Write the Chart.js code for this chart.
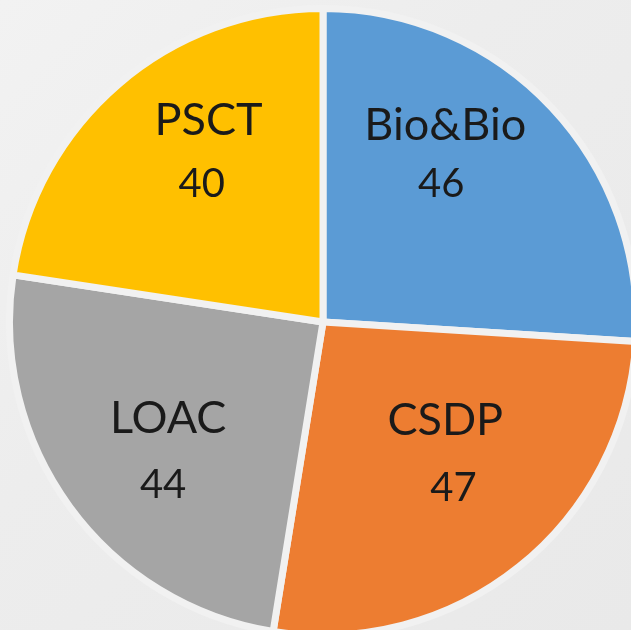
<!DOCTYPE html>
<html>
<head>
<meta charset="utf-8">
<script src="https://cdn.jsdelivr.net/npm/chart.js@4.4.0/dist/chart.umd.min.js"></script>
<style>
  html, body { margin: 0; padding: 0; width: 631px; height: 630px; overflow: hidden; background: #ededed; }
  body { background: linear-gradient(135deg, #f2f2f2 0%, #ededed 40%, #e9e9e9 100%); position: relative; }
  #wrap { position: absolute; left: 6px; top: 5px; width: 634px; height: 634px; }
</style>
</head>
<body>
<div id="wrap"><canvas id="c" width="634" height="634"></canvas></div>
<script>
const categories = ["Bio&Bio", "CSDP", "LOAC", "PSCT"];
const values = [46, 47, 44, 40];
const colors = ["#5B9BD5", "#ED7D31", "#A5A5A5", "#FFC000"];

// label anchors as fractions of the outer radius from the pie centre
const nameAnchors = [[0.39, -0.632], [0.39, 0.31], [-0.494, 0.303], [-0.365, -0.648]];
const valueAnchors = [[0.377, -0.445], [0.416, 0.526], [-0.51, 0.516], [-0.387, -0.445]];

const labelPlugin = {
  id: 'sliceLabels',
  afterDatasetsDraw(chart) {
    const ctx = chart.ctx;
    const meta = chart.getDatasetMeta(0);
    ctx.save();
    ctx.fillStyle = '#1a1a1a';
    ctx.textAlign = 'center';
    ctx.textBaseline = 'alphabetic';
    const fsName = 45, fsVal = 40;
    meta.data.forEach((arc, i) => {
      const r = arc.outerRadius;
      const cx = arc.x, cy = arc.y;
      const n = nameAnchors[i], v = valueAnchors[i];
      ctx.font = fsName + 'px Lato, "Open Sans", sans-serif';
      ctx.fillText(categories[i], cx + n[0] * r, cy + n[1] * r + 0.36 * fsName);
      ctx.font = fsVal + 'px Lato, "Open Sans", sans-serif';
      ctx.fillText(String(values[i]), cx + v[0] * r, cy + v[1] * r + 0.36 * fsVal);
    });
    ctx.restore();
  }
};

new Chart(document.getElementById('c'), {
  type: 'pie',
  data: {
    labels: categories,
    datasets: [{
      data: values,
      backgroundColor: colors,
      borderColor: '#f1f1f1',
      borderWidth: 7
    }]
  },
  options: {
    responsive: false,
    animation: false,
    layout: { padding: 0 },
    plugins: { legend: { display: false }, tooltip: { enabled: false } }
  },
  plugins: [labelPlugin]
});
</script>
</body>
</html>
